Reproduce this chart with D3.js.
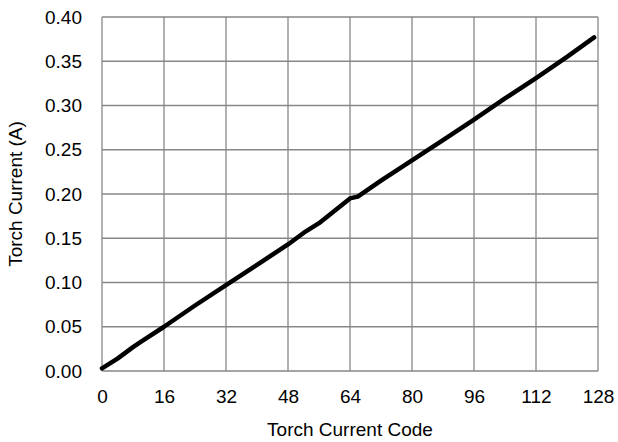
<!DOCTYPE html>
<html lang="en">
  <head>
    <meta charset="utf-8">
    <title>Torch Current</title>
    <script src="https://cdn.jsdelivr.net/npm/d3@7"></script>
    <style>
      body { margin: 0; background: #fff; }
      text { font-family: "Liberation Sans", Arial, sans-serif; fill: #000; }
    </style>
  </head>
  <body>
    <script>
      // readings
      var codes    = [0, 4, 8, 10, 16, 24, 32, 40, 48, 52, 56, 64, 66, 72, 80, 88, 96, 104, 112, 120, 127];
      var currents = [0.003, 0.014, 0.027, 0.033, 0.050, 0.074, 0.097, 0.120, 0.143, 0.156, 0.167,
                      0.195, 0.197, 0.215, 0.238, 0.261, 0.284, 0.308, 0.331, 0.355, 0.377];
      var xTicks = [0, 16, 32, 48, 64, 80, 96, 112, 128];
      var yTicks = [0, 0.05, 0.10, 0.15, 0.20, 0.25, 0.30, 0.35, 0.40];

      var w = 618, h = 442;
      var plotL = 102, plotR = 598, plotT = 17, plotB = 371;
      var fs = 19;

      var svg = d3.select("body").append("svg")
        .attr("width", w)
        .attr("height", h);

      var x = d3.scaleLinear().domain([0, 128]).range([plotL, plotR]);
      var y = d3.scaleLinear().domain([0, 0.40]).range([plotB, plotT]);

      // grid
      svg.append("g").selectAll("line")
        .data(xTicks).enter().append("line")
        .attr("x1", function (d) { return x(d); })
        .attr("x2", function (d) { return x(d); })
        .attr("y1", plotT).attr("y2", plotB)
        .attr("stroke", "#878787").attr("stroke-width", 1.3);

      svg.append("g").selectAll("line")
        .data(yTicks).enter().append("line")
        .attr("x1", plotL).attr("x2", plotR)
        .attr("y1", function (d) { return y(d); })
        .attr("y2", function (d) { return y(d); })
        .attr("stroke", "#878787").attr("stroke-width", 1.3);

      // axes (labels only)
      var xAxis = d3.axisBottom(x).tickValues(xTicks).tickSize(0).tickPadding(19);
      var yAxis = d3.axisLeft(y).tickValues(yTicks).tickSize(0).tickPadding(20)
        .tickFormat(d3.format(".2f"));

      svg.append("g")
        .attr("transform", "translate(0," + plotB + ")")
        .call(xAxis)
        .call(function (g) { g.select(".domain").remove(); })
        .selectAll("text").attr("font-size", fs);

      svg.append("g")
        .attr("transform", "translate(" + plotL + ",0)")
        .call(yAxis)
        .call(function (g) { g.select(".domain").remove(); })
        .selectAll("text").attr("font-size", fs);

      var data = codes.map(function (c, i) { return [c, currents[i]]; });

      svg.append("path")
        .datum(data)
        .attr("fill", "none")
        .attr("stroke", "#000")
        .attr("stroke-width", 4.5)
        .attr("stroke-linecap", "round")
        .attr("stroke-linejoin", "round")
        .attr("d", d3.line()
          .x(function (d) { return x(d[0]); })
          .y(function (d) { return y(d[1]); }));

      svg.append("text")
        .attr("x", (plotL + plotR) / 2)
        .attr("y", 436)
        .attr("text-anchor", "middle")
        .attr("font-size", fs)
        .text("Torch Current Code");

      svg.append("text")
        .attr("transform", "translate(22," + ((plotT + plotB) / 2) + ") rotate(-90)")
        .attr("text-anchor", "middle")
        .attr("font-size", fs)
        .text("Torch Current (A)");
    </script>
  </body>
</html>
